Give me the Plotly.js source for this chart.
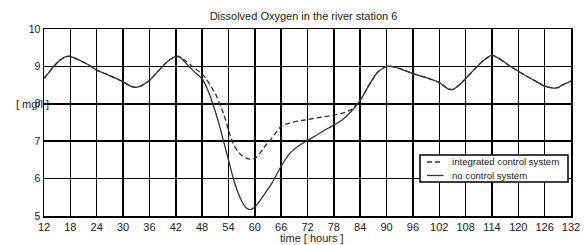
<!DOCTYPE html>
<html><head><meta charset="utf-8">
<script src="https://cdn.plot.ly/plotly-3.0.1.min.js"></script>
<style>html,body{margin:0;padding:0;background:#fff}#c{width:584px;height:245px}</style>
</head><body><div id="c"></div>
<script>
const timeNoCtrl = [12,13,14,15,16,17,18,20,22,24,26,28,30,32,33,34,36,38,40,42,43,44,45,46,48,49,50,51,52,53,54,55,56,57,58,59,60,61,62,64,66,68,70,72,74,76,78,80,82,84,86,88,90,91,93,96,99,102,104,105,106,108,110,112,114,116,118,120,122,124,126,128,129,130,132];
const doNoCtrl = [8.68,8.82,8.97,9.10,9.20,9.26,9.27,9.17,9.05,8.90,8.80,8.70,8.59,8.46,8.44,8.47,8.62,8.87,9.12,9.27,9.24,9.13,9.00,8.88,8.67,8.45,8.15,7.80,7.40,6.95,6.50,6.05,5.68,5.40,5.22,5.17,5.24,5.38,5.55,5.90,6.33,6.68,6.88,7.02,7.16,7.30,7.43,7.58,7.80,8.09,8.50,8.85,9.00,9.00,8.94,8.81,8.70,8.57,8.40,8.38,8.45,8.67,8.92,9.15,9.30,9.18,9.02,8.87,8.73,8.60,8.47,8.42,8.43,8.50,8.61];
const timeInteg = [12,13,14,15,16,17,18,20,22,24,26,28,30,32,33,34,36,38,40,42,43,44,46,48,49,50,51,52,53,54,55,56,57,58,59,60,61,62,64,66,68,70,72,74,76,78,80,82,84,86,88,90,91,93,96,99,102,104,105,106,108,110,112,114,116,118,120,122,124,126,128,129,130,132];
const doInteg = [8.68,8.82,8.97,9.10,9.20,9.26,9.27,9.17,9.05,8.90,8.80,8.70,8.59,8.46,8.44,8.47,8.62,8.87,9.12,9.27,9.25,9.17,8.98,8.80,8.65,8.47,8.28,8.00,7.70,7.30,6.95,6.75,6.62,6.55,6.52,6.54,6.65,6.82,7.10,7.40,7.49,7.54,7.58,7.62,7.66,7.70,7.75,7.85,8.09,8.50,8.85,9.00,9.00,8.94,8.81,8.70,8.57,8.40,8.38,8.45,8.67,8.92,9.15,9.30,9.18,9.02,8.87,8.73,8.60,8.47,8.42,8.43,8.50,8.61];
const xTicks = [12,18,24,30,36,42,48,54,60,66,72,78,84,90,96,102,108,114,120,126,132];
const yTicks = [5,6,7,8,9,10];
const seriesNames = ['integrated control system','no control system'];
const titleText = 'Dissolved Oxygen in the river station 6';
const xTitle = 'time [ hours ]';
const yTitle = '[ mg/l ]';

const FAM = 'Liberation Sans, Arial, sans-serif';
const font = {family:FAM, size:11, color:'#222'};
const legFont = {family:FAM, size:9.6, color:'#222'};
const lineCol = '#333';
const traces = [
  {x:timeInteg, y:doInteg, mode:'lines', name:seriesNames[0], showlegend:false,
   line:{color:lineCol, width:1.3, dash:'5px,3px', shape:'spline', smoothing:0.6}},
  {x:timeNoCtrl, y:doNoCtrl, mode:'lines', name:seriesNames[1], showlegend:false,
   line:{color:lineCol, width:1.3, shape:'spline', smoothing:0.6}}
];
// plot area in px: x 44..571, y 29..216
const L=44, R=571, T=29, B=216;
const px = v => (v-L)/(R-L);
const py = v => (B-v)/(B-T);
const layout = {
  width:584, height:245,
  margin:{l:L, r:584-R, t:T, b:245-B},
  paper_bgcolor:'#fff', plot_bgcolor:'#fff',
  font:font,
  showlegend:false,
  title:{text:titleText, font:{family:FAM, size:11, color:'#222'}, x:303.5/584, xanchor:'center', y:1-16/245, yanchor:'middle'},
  xaxis:{range:[12,132], tickvals:xTicks, ticktext:xTicks.map(String), showgrid:true, gridcolor:'#000', gridwidth:1.5,
    showline:true, linecolor:'#000', linewidth:1.5, mirror:true, zeroline:false, ticks:'', ticklen:0,
    tickfont:font},
  yaxis:{range:[5,10], tickvals:yTicks, ticktext:yTicks.map(String), showgrid:true, gridcolor:'#000', gridwidth:1.5,
    showline:true, linecolor:'#000', linewidth:1.5, mirror:true, zeroline:false, ticks:'', ticklen:0,
    tickfont:{family:FAM, size:10.5, color:'#222'}},
  shapes:[
    {type:'rect', xref:'paper', yref:'paper', x0:px(420), x1:px(568), y0:py(182), y1:py(155), fillcolor:'#fff', line:{color:'#000', width:1.5}, layer:'above'},
    {type:'line', xref:'paper', yref:'paper', x0:px(427), x1:px(441), y0:py(162), y1:py(162), line:{color:lineCol, width:1.3, dash:'5px,3px'}, layer:'above'},
    {type:'line', xref:'paper', yref:'paper', x0:px(427), x1:px(443.5), y0:py(175.5), y1:py(175.5), line:{color:lineCol, width:1.3}, layer:'above'}
  ],
  annotations:[
    {text:seriesNames[0], xref:'paper', yref:'paper', x:px(449.5), y:py(161.5), xanchor:'left', yanchor:'middle', showarrow:false, font:legFont},
    {text:seriesNames[1], xref:'paper', yref:'paper', x:px(449.5), y:py(175), xanchor:'left', yanchor:'middle', showarrow:false, font:legFont},
    {text:yTitle, xref:'paper', yref:'y', x:px(32.5), y:8, xanchor:'center', yanchor:'middle', showarrow:false, font:font},
    {text:xTitle, xref:'paper', yref:'paper', x:px(311.7), y:py(238), xanchor:'center', yanchor:'middle', showarrow:false, font:font}
  ]
};
Plotly.newPlot('c', traces, layout, {staticPlot:true, displayModeBar:false});
</script></body></html>
